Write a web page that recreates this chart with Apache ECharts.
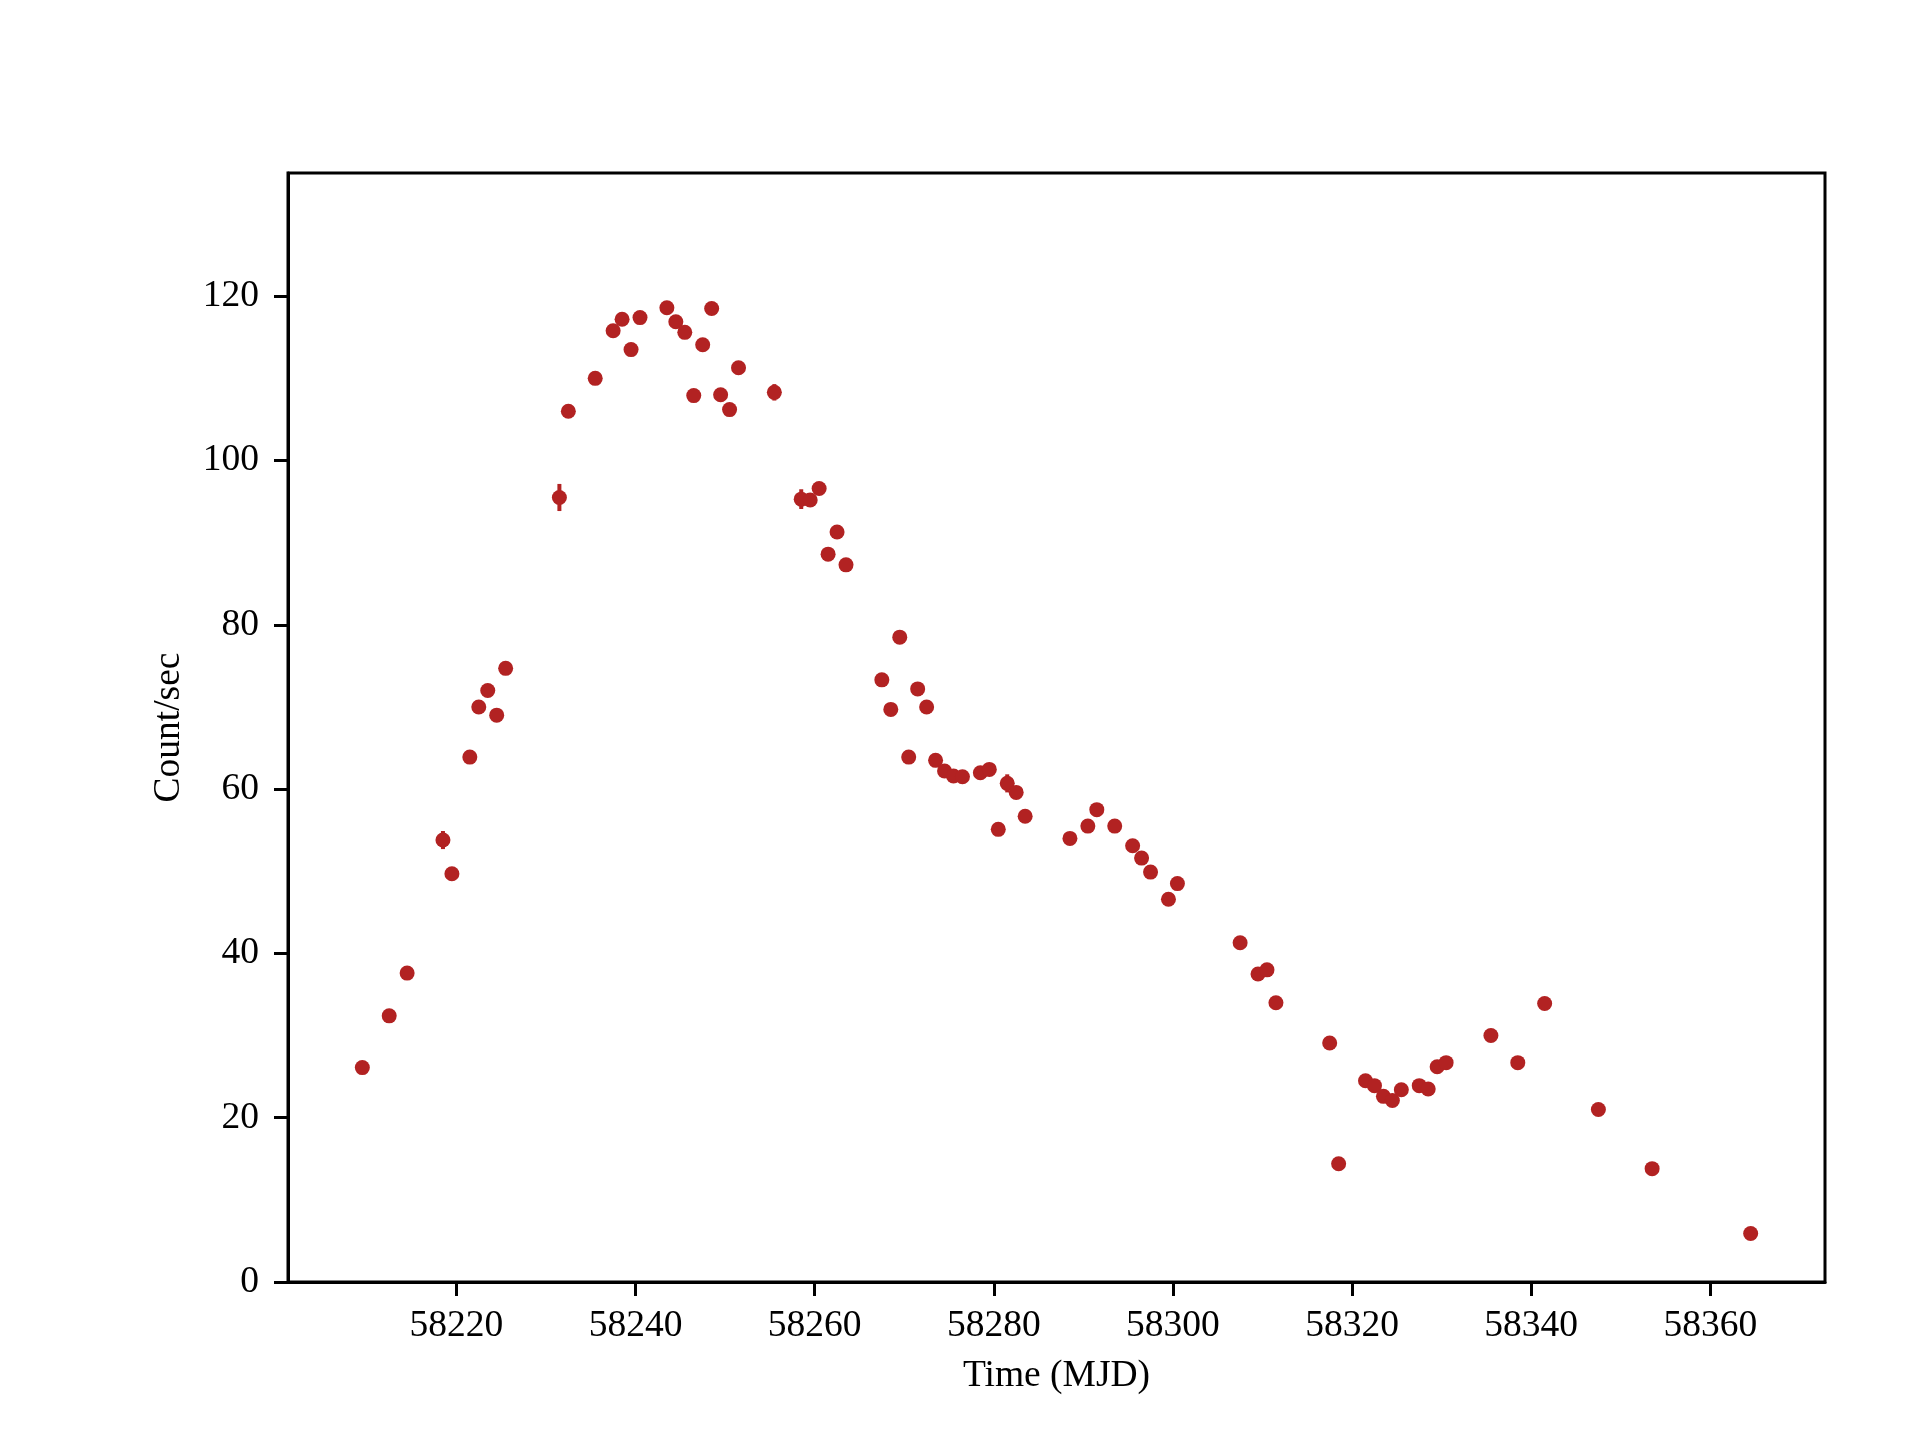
<!DOCTYPE html>
<html>
<head>
<meta charset="utf-8">
<title>Light curve</title>
<script src="https://cdn.jsdelivr.net/npm/echarts@6.0.0/dist/echarts.min.js"></script>
<style>
  html, body { margin: 0; padding: 0; background: #fff; }
  #chart { width: 1920px; height: 1440px; }
</style>
</head>
<body>
<div id="chart"></div>
<script>
// observation times (MJD)
var time = [
  58209.5, 58212.5, 58214.5, 58218.5, 58219.5, 58221.5, 58222.5, 58223.5, 58224.5, 58225.5,
  58231.5, 58232.5, 58235.5, 58237.5, 58238.5, 58239.5, 58240.5, 58243.5, 58244.5, 58245.5,
  58246.5, 58247.5, 58248.5, 58249.5, 58250.5, 58251.5, 58255.5, 58258.5, 58259.5, 58260.5,
  58261.5, 58262.5, 58263.5, 58267.5, 58268.5, 58269.5, 58270.5, 58271.5, 58272.5, 58273.5,
  58274.5, 58275.5, 58276.5, 58278.5, 58279.5, 58280.5, 58281.5, 58282.5, 58283.5, 58288.5,
  58290.5, 58291.5, 58293.5, 58295.5, 58296.5, 58297.5, 58299.5, 58300.5, 58307.5, 58309.5,
  58310.5, 58311.5, 58317.5, 58318.5, 58321.5, 58322.5, 58323.5, 58324.5, 58325.5, 58327.5,
  58328.5, 58329.5, 58330.5, 58335.5, 58338.5, 58341.5, 58347.5, 58353.5, 58364.5
]
// count rate (count/sec)
var rate = [
  26.1, 32.4, 37.6, 53.8, 49.7, 63.9, 70.0, 72.0, 69.0, 74.7,
  95.5, 106.0, 110.0, 115.8, 117.2, 113.5, 117.4, 118.6, 116.9, 115.6,
  107.9, 114.1, 118.5, 108.0, 106.2, 111.3, 108.3, 95.3, 95.2, 96.6,
  88.6, 91.3, 87.3, 73.3, 69.7, 78.5, 63.9, 72.2, 70.0, 63.5,
  62.2, 61.6, 61.5, 62.0, 62.4, 55.1, 60.7, 59.6, 56.7, 54.0,
  55.5, 57.5, 55.5, 53.1, 51.6, 49.9, 46.6, 48.5, 41.3, 37.5,
  38.0, 34.0, 29.1, 14.4, 24.5, 23.9, 22.6, 22.1, 23.4, 23.9,
  23.5, 26.2, 26.7, 30.0, 26.7, 33.9, 21.0, 13.8, 5.9
]
// 1-sigma errors (most hidden under the markers)
var rateErr = [
  0.7, 0.7, 0.7, 1.1, 0.7, 0.7, 0.7, 0.7, 0.7, 0.7,
  1.65, 0.7, 0.7, 0.7, 0.7, 0.7, 0.7, 0.7, 0.7, 0.7,
  0.7, 0.7, 0.7, 0.7, 0.7, 0.7, 1.0, 1.2, 0.7, 0.7,
  0.7, 0.7, 0.7, 0.7, 0.7, 0.7, 0.7, 0.7, 0.7, 0.7,
  0.7, 0.7, 0.7, 0.7, 0.7, 0.7, 1.1, 0.7, 0.7, 0.7,
  0.6, 0.6, 0.6, 0.6, 0.6, 0.6, 0.6, 0.6, 0.6, 0.6,
  0.6, 0.6, 0.5, 0.5, 0.5, 0.5, 0.5, 0.5, 0.5, 0.5,
  0.5, 0.5, 0.5, 0.5, 0.5, 0.5, 0.5, 0.5, 0.4
]
var xTicks = [58220, 58240, 58260, 58280, 58300, 58320, 58340, 58360]
var yTicks = [0, 20, 40, 60, 80, 100, 120]

var color = '#b22222'
var font = 'Liberation Serif'

var points = time.map(function (t, i) {
  return [t, rate[i], rateErr[i]]
})

var chartDom = document.getElementById('chart')
var chart = echarts.init(chartDom)

var option = {
  animation: false,
  backgroundColor: '#fff',
  grid: {
    left: 288,
    right: 95,
    top: 173,
    bottom: 158,
    show: true,
    borderColor: '#000',
    borderWidth: 3,
    backgroundColor: 'transparent'
  },
  xAxis: {
    type: 'value',
    min: 58201.2,
    max: 58372.8,
    name: 'Time (MJD)',
    nameLocation: 'middle',
    nameGap: 75,
    nameTextStyle: { fontFamily: font, fontSize: 37.5, color: '#000' },
    splitLine: { show: false },
    axisLine: { show: true, onZero: false, lineStyle: { color: '#000', width: 3 } },
    axisTick: { show: true, customValues: xTicks, length: 14, lineStyle: { color: '#000', width: 3 } },
    axisLabel: {
      customValues: xTicks,
      margin: 25,
      fontFamily: font,
      fontSize: 37.5,
      color: '#000',
      formatter: function (v) { return String(v) }
    }
  },
  yAxis: {
    type: 'value',
    min: 0,
    max: 135,
    name: 'Count/sec',
    nameLocation: 'middle',
    nameGap: 100,
    nameTextStyle: { fontFamily: font, fontSize: 37.5, color: '#000' },
    splitLine: { show: false },
    axisLine: { show: true, onZero: false, lineStyle: { color: '#000', width: 3 } },
    axisTick: { show: true, customValues: yTicks, length: 14, lineStyle: { color: '#000', width: 3 } },
    axisLabel: {
      customValues: yTicks,
      margin: 29,
      fontFamily: font,
      fontSize: 37.5,
      color: '#000',
      formatter: function (v) { return String(v) }
    }
  },
  series: [
    {
      name: 'err',
      type: 'custom',
      data: points,
      encode: { x: 0, y: 1 },
      renderItem: function (params, api) {
        var x = api.value(0)
        var y = api.value(1)
        var e = api.value(2)
        var top = api.coord([x, y + e])
        var bot = api.coord([x, y - e])
        return {
          type: 'line',
          shape: { x1: top[0], y1: top[1], x2: bot[0], y2: bot[1] },
          style: { stroke: color, lineWidth: 4 }
        }
      },
      z: 2
    },
    {
      name: 'rate',
      type: 'scatter',
      data: points,
      symbol: 'circle',
      symbolSize: 15,
      itemStyle: { color: color, opacity: 1 },
      z: 3
    }
  ]
}

option && chart.setOption(option)
window.addEventListener('resize', function () {
  chart.resize()
})
</script>
</body>
</html>
